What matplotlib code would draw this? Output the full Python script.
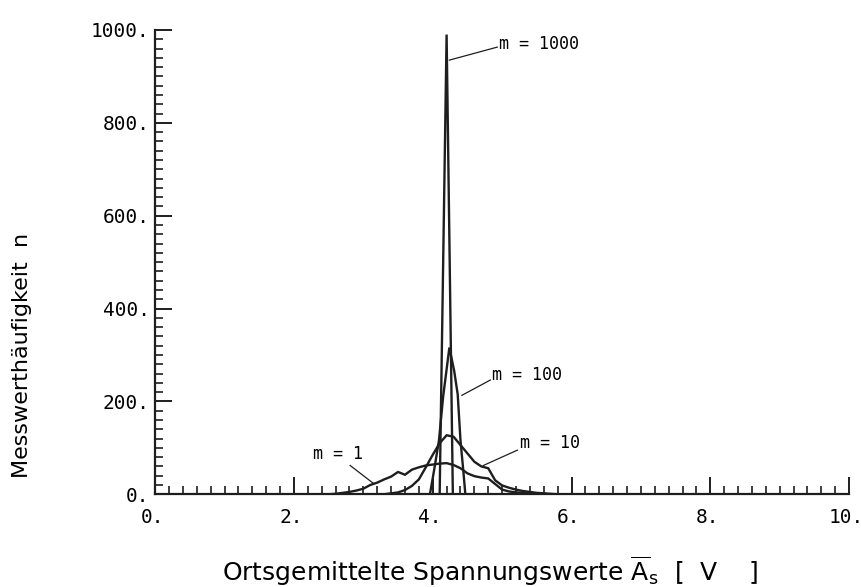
import matplotlib
matplotlib.use("Agg")
import matplotlib.pyplot as plt
import matplotlib.transforms as mtransforms
from matplotlib.ticker import MultipleLocator, FixedLocator

# --- data ---
x_m1 = [2.5, 2.6, 2.7, 2.8, 2.9, 3.0, 3.1, 3.2, 3.3, 3.4, 3.5, 3.6, 3.7, 3.8,
        3.9, 4.0, 4.1, 4.2, 4.3, 4.4, 4.5, 4.6, 4.7, 4.8, 4.9, 5.0, 5.1, 5.2,
        5.3, 5.4, 5.5, 5.6, 5.7, 5.8]
n_m1 = [0, 1, 3, 5, 8, 12, 20, 25, 32, 38, 48, 42, 53, 58,
        62, 64, 66, 67, 63, 56, 45, 39, 36, 34, 22, 10, 6, 4,
        3, 3, 2, 1, 1, 0]

x_m10 = [3.3, 3.4, 3.5, 3.6, 3.7, 3.8, 3.9, 4.0, 4.1, 4.2, 4.3, 4.4, 4.5,
         4.6, 4.7, 4.8, 4.9, 5.0, 5.1, 5.2, 5.3, 5.4, 5.5, 5.6, 5.7]
n_m10 = [0, 2, 4, 9, 18, 32, 58, 85, 110, 127, 124, 106, 88,
         70, 60, 56, 30, 19, 14, 10, 7, 5, 3, 2, 0]

x_m100 = [3.96, 4.02, 4.09, 4.15, 4.24, 4.31, 4.36, 4.40, 4.44, 4.47]
n_m100 = [0, 52, 116, 210, 316, 265, 215, 116, 52, 0]

x_m1000 = [4.10, 4.20, 4.29]
n_m1000 = [0, 990, 0]

xticks = [0, 2, 4, 6, 8, 10]
xticklabels = ['0.', '2.', '4.', '6.', '8.', '10.']
yticks = [0, 200, 400, 600, 800, 1000]
yticklabels = ['0.', '200.', '400.', '600.', '800.', '1000.']

mono = 'DejaVu Sans Mono'
ink = '#1e1e1e'

fig = plt.figure(figsize=(8.62, 5.87), dpi=100)
ax = fig.add_axes([0.18, 0.158, 0.805, 0.791])

for xs, ns in [(x_m1, n_m1), (x_m10, n_m10), (x_m100, n_m100), (x_m1000, n_m1000)]:
    ax.plot(xs, ns, color=ink, lw=1.7, solid_joinstyle='miter')

ax.set_xlim(0, 10)
ax.set_ylim(0, 1000)
for s in ['top', 'right']:
    ax.spines[s].set_visible(False)
for s in ['left', 'bottom']:
    ax.spines[s].set_linewidth(1.6)
    ax.spines[s].set_color(ink)

ax.xaxis.set_major_locator(FixedLocator(xticks))
ax.yaxis.set_major_locator(FixedLocator(yticks))
ax.xaxis.set_minor_locator(MultipleLocator(0.2))
ax.yaxis.set_minor_locator(MultipleLocator(20))
ax.set_xticklabels(xticklabels, fontfamily=mono, fontsize=14)
ax.set_yticklabels(yticklabels, fontfamily=mono, fontsize=14)
ax.tick_params(which='major', direction='in', length=12, width=1.4, color=ink)
ax.tick_params(which='minor', direction='in', length=6, width=1.2, color=ink)
ax.tick_params(axis='x', which='major', pad=10)
ax.tick_params(axis='y', which='major', pad=4)

# nudge x tick labels a little to the left, like the plotter output
shift = mtransforms.ScaledTranslation(-3 / 100, 0, fig.dpi_scale_trans)
for lbl in ax.get_xticklabels():
    lbl.set_transform(lbl.get_transform() + shift)

# curve labels with leader lines
ax.plot([4.24, 4.93], [935, 963], color=ink, lw=0.9)
ax.text(4.96, 970, 'm = 1000', fontfamily=mono, fontsize=12, va='center')
ax.plot([4.42, 4.83], [213, 246], color=ink, lw=0.9)
ax.text(4.86, 256, 'm = 100', fontfamily=mono, fontsize=12, va='center')
ax.plot([4.73, 5.22], [62, 95], color=ink, lw=0.9)
ax.text(5.26, 110, 'm = 10', fontfamily=mono, fontsize=12, va='center')
ax.plot([2.81, 3.14], [62, 24], color=ink, lw=0.9)
ax.text(2.28, 86, 'm = 1', fontfamily=mono, fontsize=12, va='center')

ax.set_xlabel(r'Ortsgemittelte Spannungswerte $\overline{\mathrm{A}}_\mathrm{s}$  [  V    ]',
              fontsize=18)
ax.xaxis.set_label_coords(0.483, -0.130)
ax.set_ylabel('Messwerthäufigkeit  n', fontsize=16)
ax.yaxis.set_label_coords(-0.177, 0.30)

fig.savefig('out.png', dpi=100, facecolor='white')
